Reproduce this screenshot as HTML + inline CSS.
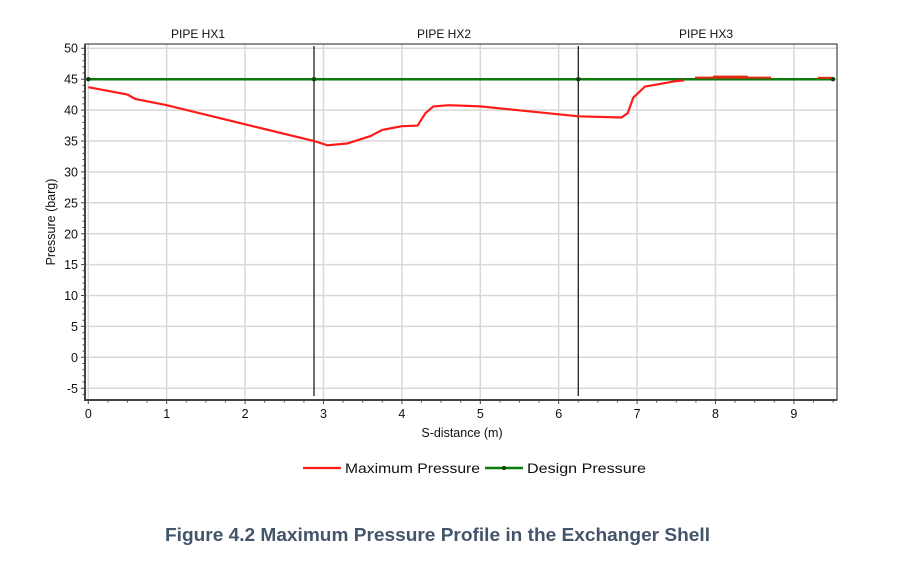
<!DOCTYPE html>
<html><head><meta charset="utf-8"><style>
html,body{margin:0;padding:0;background:#fff;width:911px;height:562px;overflow:hidden}
svg{display:block;font-family:"Liberation Sans",Arial,sans-serif}
</style></head><body>
<svg width="911" height="562" viewBox="0 0 911 562" xmlns="http://www.w3.org/2000/svg">
<g stroke="#d8d8d8" stroke-width="1.5">
<line x1="166.7" y1="44" x2="166.7" y2="400"/><line x1="245.1" y1="44" x2="245.1" y2="400"/>
<line x1="323.5" y1="44" x2="323.5" y2="400"/><line x1="401.9" y1="44" x2="401.9" y2="400"/>
<line x1="480.3" y1="44" x2="480.3" y2="400"/><line x1="558.7" y1="44" x2="558.7" y2="400"/>
<line x1="637.1" y1="44" x2="637.1" y2="400"/><line x1="715.5" y1="44" x2="715.5" y2="400"/>
<line x1="793.9" y1="44" x2="793.9" y2="400"/><line x1="88.3" y1="44" x2="88.3" y2="400"/>
<line x1="85" y1="48.3" x2="837" y2="48.3"/><line x1="85" y1="79.2" x2="837" y2="79.2"/>
<line x1="85" y1="110.1" x2="837" y2="110.1"/><line x1="85" y1="141" x2="837" y2="141"/>
<line x1="85" y1="171.9" x2="837" y2="171.9"/><line x1="85" y1="202.8" x2="837" y2="202.8"/>
<line x1="85" y1="233.7" x2="837" y2="233.7"/><line x1="85" y1="264.6" x2="837" y2="264.6"/>
<line x1="85" y1="295.5" x2="837" y2="295.5"/><line x1="85" y1="326.4" x2="837" y2="326.4"/>
<line x1="85" y1="357.3" x2="837" y2="357.3"/><line x1="85" y1="388.2" x2="837" y2="388.2"/>
</g>
<rect x="85" y="44" width="752" height="356" fill="none" stroke="#222" stroke-width="1"/>
<line x1="85" y1="44" x2="85" y2="401" stroke="#444" stroke-width="2"/>
<line x1="84" y1="400" x2="837" y2="400" stroke="#444" stroke-width="2"/>
<line x1="314" y1="46" x2="314" y2="396" stroke="#222" stroke-width="1.3"/>
<line x1="578.3" y1="46" x2="578.3" y2="396" stroke="#222" stroke-width="1.3"/>
<line x1="88.3" y1="79.2" x2="833" y2="79.2" stroke="#0a7a0a" stroke-width="2.5"/>
<g fill="#0a3a0a"><circle cx="88.3" cy="79.2" r="2.2"/><circle cx="314" cy="79.2" r="2.2"/><circle cx="578.3" cy="79.2" r="2.2"/><circle cx="833" cy="79.2" r="2.2"/></g>
<polyline fill="none" stroke="#ff1a1a" stroke-width="2.2" points="88.3,87.2 127.5,94.6 135.3,99 166.7,105.2 245.1,124.3 314.1,141 327.4,145.3 347,143.5 370.5,136.1 382.3,129.9 401.9,126.2 417.6,125.6 425.4,113.2 433.3,106.4 449,105.2 480.3,106.4 578.3,116.3 621.4,117.5 627.7,113.2 633.2,97.7 644.9,86.6 676.3,81.1 684.1,80.4"/>
<g stroke="#e02a10" stroke-width="2"><line x1="695" y1="77.6" x2="771" y2="77.6"/><line x1="713" y1="76.6" x2="748" y2="76.6"/><line x1="818" y1="77.8" x2="832" y2="77.8"/></g>
<g font-size="12.5" fill="#111" text-anchor="end">
<text x="78" y="52.5">50</text><text x="78" y="83.5">45</text><text x="78" y="114.5">40</text><text x="78" y="145.5">35</text><text x="78" y="176.5">30</text><text x="78" y="207.5">25</text><text x="78" y="238.5">20</text><text x="78" y="269">15</text><text x="78" y="300">10</text><text x="78" y="331">5</text><text x="78" y="362">0</text><text x="78" y="393">-5</text>
</g>
<g font-size="12.5" fill="#111" text-anchor="middle">
<text x="88.3" y="418">0</text><text x="166.7" y="418">1</text><text x="245.1" y="418">2</text><text x="323.5" y="418">3</text><text x="401.9" y="418">4</text><text x="480.3" y="418">5</text><text x="558.7" y="418">6</text><text x="637.1" y="418">7</text><text x="715.5" y="418">8</text><text x="793.9" y="418">9</text>
<text x="462" y="437" font-size="12.5">S-distance (m)</text>
<text x="198" y="38" font-size="12">PIPE HX1</text><text x="444" y="38" font-size="12">PIPE HX2</text><text x="706" y="38" font-size="12">PIPE HX3</text>
</g>
<text transform="translate(55,222) rotate(-90)" font-size="12.5" fill="#111" text-anchor="middle">Pressure (barg)</text>
<line x1="303" y1="468" x2="341" y2="468" stroke="#ff1a1a" stroke-width="2.2"/>
<text x="345" y="473" font-size="14" fill="#111" textLength="135" lengthAdjust="spacingAndGlyphs">Maximum Pressure</text>
<line x1="485" y1="468" x2="523" y2="468" stroke="#0a7a0a" stroke-width="2.5"/>
<circle cx="504" cy="468" r="2" fill="#0a3a0a"/>
<text x="527" y="473" font-size="14" fill="#111" textLength="119" lengthAdjust="spacingAndGlyphs">Design Pressure</text>
<text x="165" y="541" font-size="18" font-weight="bold" fill="#44546a" textLength="545" lengthAdjust="spacingAndGlyphs">Figure 4.2 Maximum Pressure Profile in the Exchanger Shell</text>
<g stroke="#444" stroke-width="1">
<path d="M81 48.3h4M81 79.2h4M81 110.1h4M81 141h4M81 171.9h4M81 202.8h4M81 233.7h4M81 264.6h4M81 295.5h4M81 326.4h4M81 357.3h4M81 388.2h4"/>
<path d="M82.5 54.5h2.5M82.5 60.7h2.5M82.5 66.8h2.5M82.5 73h2.5M82.5 85.4h2.5M82.5 91.6h2.5M82.5 97.7h2.5M82.5 103.9h2.5M82.5 116.3h2.5M82.5 122.5h2.5M82.5 128.6h2.5M82.5 134.8h2.5M82.5 147.2h2.5M82.5 153.4h2.5M82.5 159.5h2.5M82.5 165.7h2.5M82.5 178.1h2.5M82.5 184.3h2.5M82.5 190.4h2.5M82.5 196.6h2.5M82.5 209h2.5M82.5 215.2h2.5M82.5 221.3h2.5M82.5 227.5h2.5M82.5 239.9h2.5M82.5 246.1h2.5M82.5 252.2h2.5M82.5 258.4h2.5M82.5 270.8h2.5M82.5 277h2.5M82.5 283.1h2.5M82.5 289.3h2.5M82.5 301.7h2.5M82.5 307.9h2.5M82.5 314h2.5M82.5 320.2h2.5M82.5 332.6h2.5M82.5 338.8h2.5M82.5 344.9h2.5M82.5 351.1h2.5M82.5 363.5h2.5M82.5 369.7h2.5M82.5 375.8h2.5M82.5 382h2.5M82.5 394.4h2.5"/>
<path d="M88.3 400v4M166.7 400v4M245.1 400v4M323.5 400v4M401.9 400v4M480.3 400v4M558.7 400v4M637.1 400v4M715.5 400v4M793.9 400v4"/>
<path d="M107.9 400v2.5M127.5 400v2.5M147.1 400v2.5M186.3 400v2.5M205.9 400v2.5M225.5 400v2.5M264.7 400v2.5M284.3 400v2.5M303.9 400v2.5M343.1 400v2.5M362.7 400v2.5M382.3 400v2.5M421.5 400v2.5M441.1 400v2.5M460.7 400v2.5M499.9 400v2.5M519.5 400v2.5M539.1 400v2.5M578.3 400v2.5M597.9 400v2.5M617.5 400v2.5M656.7 400v2.5M676.3 400v2.5M695.9 400v2.5M735.1 400v2.5M754.7 400v2.5M774.3 400v2.5M813.5 400v2.5M833.1 400v2.5"/>
</g>
</svg>
</body></html>
